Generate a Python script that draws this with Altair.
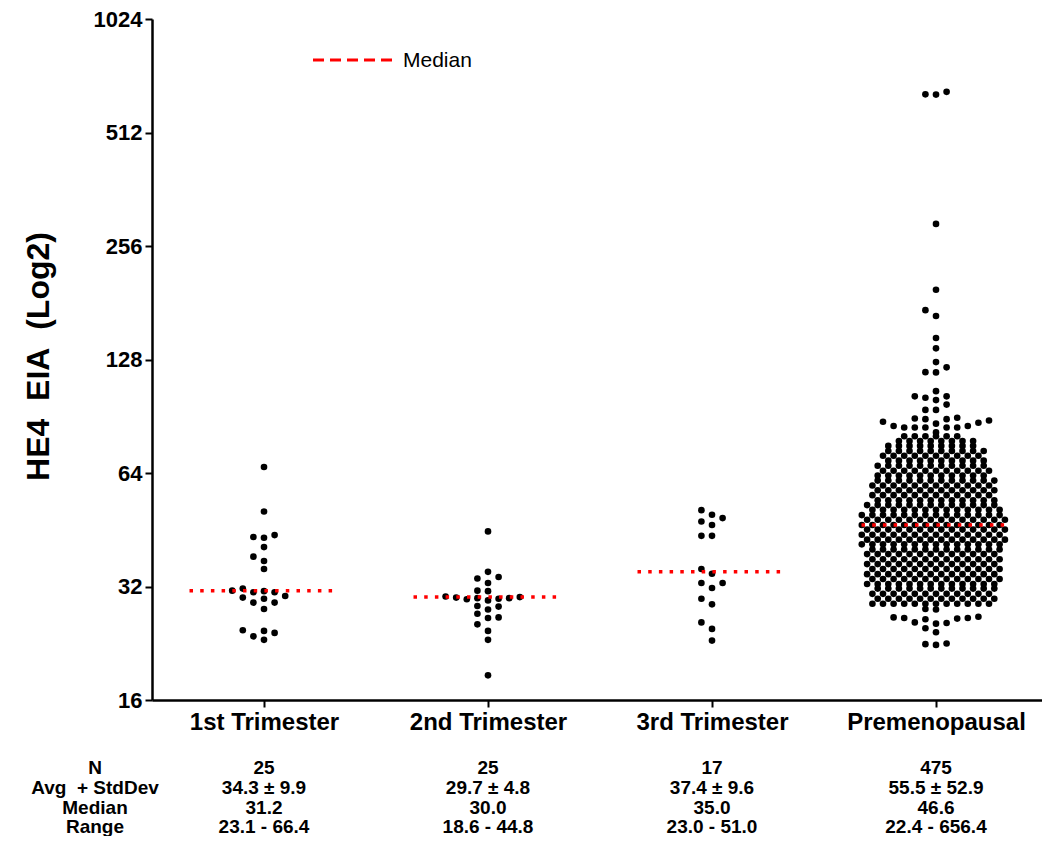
import math
import pandas as pd
import altair as alt

# ---------------- data ----------------
groups = ["1st Trimester", "2nd Trimester", "3rd Trimester", "Premenopausal"]

g1_values = [66.4, 50.6, 43.8, 43.1, 43.3, 40.7, 38.4, 37.4, 35.6, 31.2, 30.9, 31.6,
             31.1, 30.9, 30.2, 29.9, 29.7, 29.0, 29.0, 27.9, 24.5, 24.1, 24.4, 23.6, 23.1]
g2_values = [44.8, 35.0, 33.6, 33.9, 32.7, 31.1, 31.2, 30.0, 29.8, 29.7, 29.4, 29.6,
             29.8, 29.9, 30.1, 28.4, 28.3, 27.8, 27.1, 26.5, 26.4, 25.4, 24.4, 23.1, 18.6]
g3_values = [51.0, 49.6, 48.6, 47.6, 46.6, 43.6, 43.6, 35.6, 34.6, 32.7, 32.7, 31.7,
             29.7, 28.7, 25.7, 24.7, 23.0]

# premenopausal: isolated points read one by one
prem_individual = [656.4, 646.4, 645.3, 293.0, 196.0, 173.0, 167.0, 146.0, 137.0, 126.0,
                   122.0, 118.5, 118.3, 105.5, 102.2, 102.2, 101.3, 99.9, 97.2, 94.1, 94.1,
                   89.7, 89.3, 88.9, 88.9, 88.2, 87.5, 87.0, 86.5, 85.3, 85.3, 84.5, 84.5,
                   84.5, 84.5, 84.5, 82.0,
                   27.9, 27.8, 26.6, 26.5, 26.4, 26.4, 26.3, 26.2, 25.7, 25.6, 25.5, 24.8,
                   24.2, 22.6, 22.5, 22.4]
# premenopausal: dense core, read as swarm rows (value of row, dots in row)
prem_row_values = [80.1, 77.8, 75.5, 73.2, 71.1, 69.0, 66.9, 64.9, 63.0, 61.1, 59.3, 57.6,
                   55.9, 54.2, 52.6, 51.1, 49.5, 48.1, 46.6, 45.3, 43.9, 42.6, 41.4, 40.1,
                   39.0, 37.8, 36.7, 35.6, 34.5, 33.5, 32.5, 31.6, 30.6, 29.7, 28.8]
prem_row_counts = [6, 8, 9, 10, 10, 10, 11, 11, 11, 12, 12, 12, 12, 12, 13, 13, 14, 14,
                   14, 14, 14, 14, 14, 13, 13, 13, 13, 13, 13, 13, 13, 12, 12, 12, 12]

median_values = [31.2, 30.0, 35.0, 46.6]
row_labels = ["N", "Avg\u00a0 + StdDev", "Median", "Range"]
n_text = ["25", "25", "17", "475"]
avg_text = ["34.3 \u00b1 9.9", "29.7 \u00b1 4.8", "37.4 \u00b1 9.6", "55.5 \u00b1 52.9"]
median_text = ["31.2", "30.0", "35.0", "46.6"]
range_text = ["23.1 - 66.4", "18.6 - 44.8", "23.0 - 51.0", "22.4 - 656.4"]
y_ticks = [16, 32, 64, 128, 256, 512, 1024]

# ---------------- layout ----------------
PAD_TOP = 11
W, H = 890, 700 - 8 - PAD_TOP
PX_PER_GROUP = 224.0
COL_PX = 10.6
K = H / 6.0           # pixels per doubling
DOT_D = 7.5
FONT = "Liberation Sans, Arial, sans-serif"

x_domain = [-0.5, -0.5 + W / PX_PER_GROUP]


def swarm(vals, max_half):
    order = [0]
    for i in range(1, max_half + 1):
        order += [-i, i]
    idx = sorted(range(len(vals)), key=lambda i: vals[i])
    last = {}
    offs = [0] * len(vals)
    for i in idx:
        y = math.log2(vals[i]) * K
        chosen = None
        for c in order:
            if c not in last or abs(y - last[c]) >= DOT_D:
                chosen = c
                break
        if chosen is None:
            chosen = max(order, key=lambda c: abs(y - last[c]))
        last[chosen] = y
        offs[i] = chosen
    return offs


def row_slots(count, half):
    # centre-out slots for one packed row; alternate rows are shifted half a column
    if half:
        base = []
        for i in range(8):
            base += [-(i + 0.5), i + 0.5]
    else:
        base = [0]
        for i in range(1, 8):
            base += [-i, i]
    return base[:count]


rows = []
for gi, vals in enumerate([g1_values, g2_values, g3_values]):
    for v, o in zip(vals, swarm(vals, 6)):
        rows.append({"value": v, "x": gi + o * COL_PX / PX_PER_GROUP})

for v, o in zip(prem_individual, swarm(prem_individual, 6)):
    rows.append({"value": v, "x": 3 + o * COL_PX / PX_PER_GROUP})
for r, (v, c) in enumerate(zip(prem_row_values, prem_row_counts)):
    for o in row_slots(c, (r % 2 == 1) != (c % 2 == 1)):
        rows.append({"value": v, "x": 3 + o * COL_PX / PX_PER_GROUP})
pts = pd.DataFrame(rows)

half_len = 74.5 / PX_PER_GROUP
med_df = pd.DataFrame({
    "xs": [i - half_len for i in range(4)],
    "xe": [i + half_len for i in range(4)],
    "median": median_values,
})

label_expr = "[" + ",".join("'%s'" % g for g in groups) + "][datum.value]"

xscale = alt.Scale(domain=x_domain, nice=False, zero=False)
yscale = alt.Scale(type="log", base=2, domain=[16, 1024], nice=False)

points = alt.Chart(pts).mark_circle(size=44, color="black", opacity=1).encode(
    x=alt.X("x:Q", scale=xscale,
            axis=alt.Axis(values=[0, 1, 2, 3], labelExpr=label_expr, title=None,
                          labelFontSize=24, labelFontWeight="bold", labelPadding=3,
                          tickSize=7, grid=False, labelFont=FONT)),
    y=alt.Y("value:Q", scale=yscale,
            axis=alt.Axis(values=y_ticks, format="d", title="HE4\u00a0 EIA\u00a0 (Log2)",
                          titleFontSize=32, titleFontWeight="bold", titleX=-114,
                          titleY=356 - 8 - PAD_TOP, titleAngle=-90, titleAlign="center",
                          titleBaseline="middle",
                          labelFontSize=22, labelFontWeight="bold", labelPadding=3,
                          tickSize=7, grid=False, labelFont=FONT, titleFont=FONT)),
)

medians = alt.Chart(med_df).mark_rule(color="#ff0000", strokeWidth=3.5,
                                      strokeDash=[3.5, 7.2]).encode(
    x=alt.X("xs:Q", scale=xscale), x2="xe:Q", y=alt.Y("median:Q", scale=yscale))

legend_df = pd.DataFrame({"label": ["Median"]})
legend_line = alt.Chart(legend_df).mark_rule(color="#ff0000", strokeWidth=3,
                                             strokeDash=[11, 6]).encode(
    x=alt.value(161), x2=alt.value(241), y=alt.value(60 - 8 - PAD_TOP))
legend_text = alt.Chart(legend_df).mark_text(align="left", baseline="middle", fontSize=21,
                                             font=FONT, color="black").encode(
    x=alt.value(251), y=alt.value(61 - 8 - PAD_TOP), text="label:N")

table_layers = []
row_y = [768, 788, 808, 827]          # page rows, converted below
for r, (lab, texts) in enumerate(zip(row_labels, [n_text, avg_text, median_text, range_text])):
    yv = row_y[r] - 8 - PAD_TOP
    tdf = pd.DataFrame({"x": list(range(4)), "t": texts})
    table_layers.append(
        alt.Chart(tdf).mark_text(fontSize=19, fontWeight="bold", font=FONT, color="black",
                                 baseline="middle", align="center").encode(
            x=alt.X("x:Q", scale=xscale), y=alt.value(yv), text="t:N"))
    ldf = pd.DataFrame({"t": [lab]})
    table_layers.append(
        alt.Chart(ldf).mark_text(fontSize=19, fontWeight="bold", font=FONT, color="black",
                                 baseline="middle", align="center").encode(
            x=alt.value(-57), y=alt.value(yv), text="t:N"))

chart = alt.layer(points, medians, legend_line, legend_text, *table_layers).properties(
    width=W, height=H,
    padding={"left": 144, "top": PAD_TOP, "right": 0, "bottom": 136},
    autosize=alt.AutoSizeParams(type="none"),
).configure_view(stroke=None).configure_axis(
    domainColor="black", domainWidth=2.5, tickColor="black", tickWidth=2,
    labelColor="black", titleColor="black",
)

chart.save("out.html", embed_options={"renderer": "svg", "actions": False})
